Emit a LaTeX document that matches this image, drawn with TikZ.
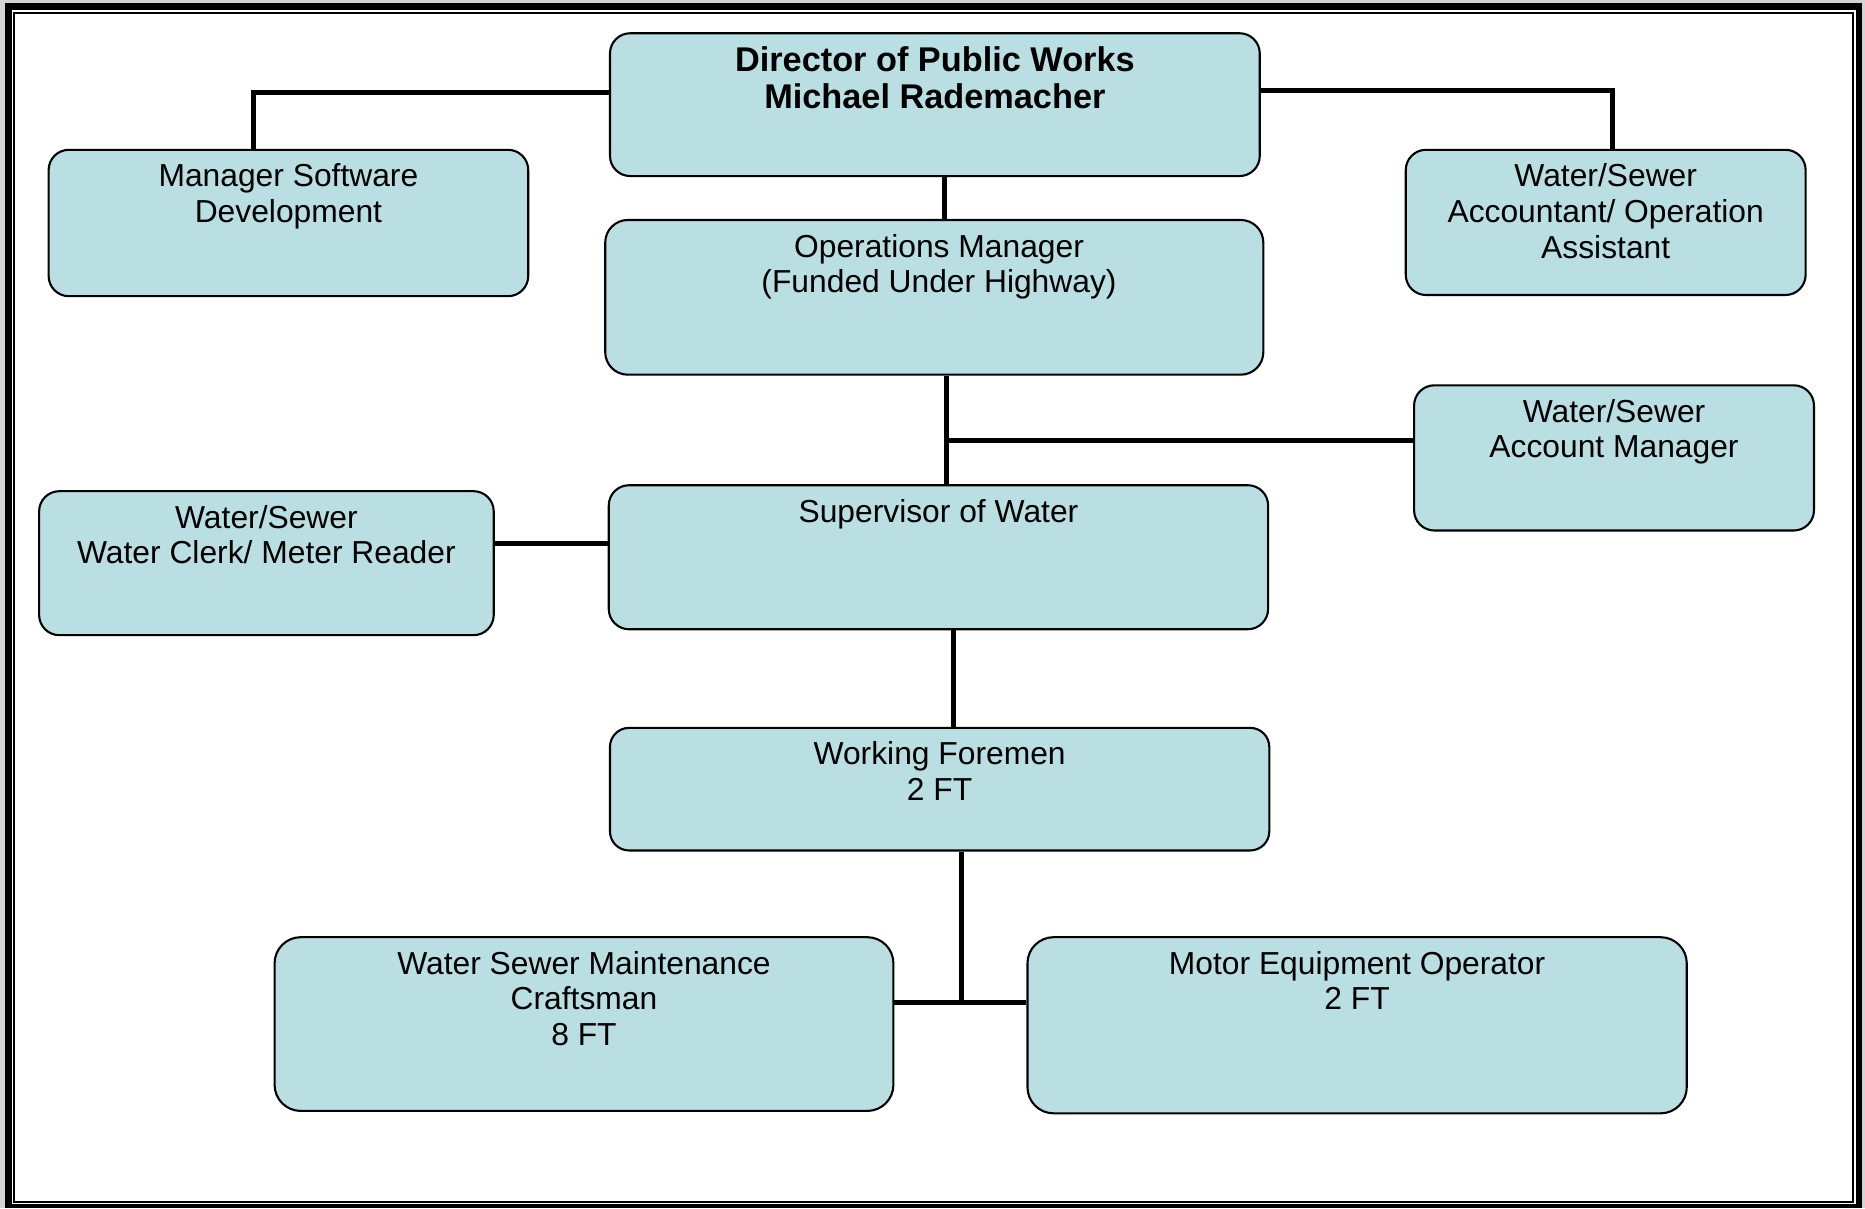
\documentclass[tikz,border=0pt]{standalone}
\usepackage{fontspec}
\setmainfont{Liberation Sans}
\usepackage{tikz}

\definecolor{unitfill}{RGB}{186,223,226}
\definecolor{pagegray}{RGB}{212,212,212}

\tikzset{
  unit/.style={draw, fill=unitfill, line width=0.5pt, rounded corners=0.17cm, inner sep=0pt},
  title/.style={align=center, inner sep=0pt, anchor=north, font=\fontsize{7.6}{8.5}\selectfont},
  boss/.style={title, font=\fontsize{8.2}{8.8}\selectfont\bfseries},
  link/.style={line width=1.2pt}
}

\begin{document}
\begin{tikzpicture}[x=0.01cm, y=-0.01cm]
    \useasboundingbox (0,0) rectangle (1568,1016);
    % page frame
    \fill[pagegray] (0,0) rectangle (1568,1016);
    \fill[black] (4.2,2.5) rectangle (1565.5,1016);
    \fill[white] (10.1,8.4) rectangle (1560.5,1012.2);
    \draw[line width=0.45pt] (11.8,11.3) rectangle (1558.2,1010.6);

    % connectors
    \coordinate (top-l) at (213,78);
    \coordinate (top-r) at (1356,76);

    \node[unit, minimum width=5.46cm, minimum height=1.20cm] (dir) at (786,88) {}; % Director
\node[unit, minimum width=4.03cm, minimum height=1.23cm] (msd) at (242.5,187.5) {}; % Software
\node[unit, minimum width=3.36cm, minimum height=1.22cm] (acc) at (1350,187) {}; % Accountant
\node[unit, rounded corners=0.19cm, minimum width=5.53cm, minimum height=1.30cm] (ops) at (785.5,250) {}; % Operations
\node[unit, minimum width=3.36cm, minimum height=1.22cm] (acm) at (1357,385) {}; % Account Manager
\node[unit, minimum width=5.54cm, minimum height=1.21cm] (sup) at (789,468.5) {}; % Supervisor
\node[unit, minimum width=3.82cm, minimum height=1.21cm] (clk) at (224,473.5) {}; % Clerk
\node[unit, rounded corners=0.16cm, minimum width=5.54cm, minimum height=1.03cm] (wfm) at (790,663.5) {}; % Foremen
\node[unit, rounded corners=0.22cm, minimum width=5.20cm, minimum height=1.46cm] (wsm) at (491,861) {}; % Craftsman
\node[unit, rounded corners=0.22cm, minimum width=5.54cm, minimum height=1.48cm] (meo) at (1141,862) {}; % Operator

\node[boss] (dir-t) at ([yshift=-0.115cm]dir.north) {Director of Public Works\\Michael Rademacher}; % Director
\node[title] (msd-t) at ([yshift=-0.12cm]msd.north) {Manager Software\\Development}; % Software
\node[title] (acc-t) at ([yshift=-0.12cm]acc.north) {Water/Sewer\\Accountant/ Operation\\Assistant}; % Accountant
\node[title] (ops-t) at ([xshift=0.04cm, yshift=-0.12cm]ops.north) {Operations Manager\\(Funded Under Highway)}; % Operations
\node[title] (acm-t) at ([yshift=-0.12cm]acm.north) {Water/Sewer\\Account Manager}; % Account Manager
\node[title] (sup-t) at ([yshift=-0.12cm]sup.north) {Supervisor of Water}; % Supervisor
\node[title] (clk-t) at ([yshift=-0.12cm]clk.north) {Water/Sewer\\Water Clerk/ Meter Reader}; % Clerk
\node[title] (wfm-t) at ([yshift=-0.12cm]wfm.north) {Working Foremen\\2 FT}; % Foremen
\node[title] (wsm-t) at ([yshift=-0.12cm]wsm.north) {Water Sewer Maintenance\\Craftsman\\8 FT}; % Craftsman
\node[title] (meo-t) at ([yshift=-0.12cm]meo.north) {Motor Equipment Operator\\2 FT}; % Operator

\draw[link] (dir.west |- top-l) -| (msd.north -| top-l) ; % dir-msd
\draw[link] (dir.east |- top-r) -| (acc.north -| top-r) ; % dir-acc
\draw[link] (dir.south -| 794,0) -- (ops.north -| 794,0) ; % dir-ops
\draw[link] (ops.south -| 796,0) -- (sup.north -| 796,0) ; % ops-sup
\draw[link] (796,370) -- (acm.west |- 0,370) ; % ops-acm
\draw[link] (clk.east |- 0,457) -- (sup.west |- 0,457) ; % sup-clk
\draw[link] (sup.south -| 802,0) -- (wfm.north -| 802,0) ; % sup-wfm
\draw[link] (wfm.south -| 808,0) -- (808,843) ; % wfm-down
\draw[link] (wsm.east |- 0,843) -- (meo.west |- 0,843) ; % wsm-meo

    \end{tikzpicture}
\end{document}
